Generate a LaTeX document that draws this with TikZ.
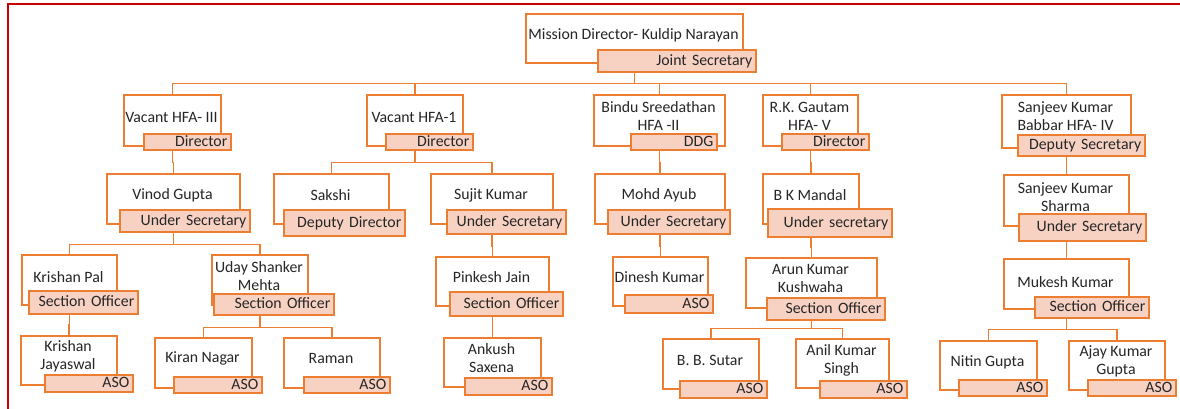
\documentclass[tikz,border=0pt]{standalone}
\usepackage{fontspec}
\setmainfont{Carlito}
\definecolor{edge}{RGB}{237,125,49}
\definecolor{rolefill}{RGB}{247,210,195}
\definecolor{ink}{RGB}{38,38,38}
\definecolor{framered}{RGB}{204,0,0}

\tikzset{
  personbox/.style={draw=edge, line width=1.6pt, fill=white, inner sep=0pt},
  rolebox/.style={draw=edge, line width=1.6pt, fill=rolefill, inner ysep=0pt, inner xsep=3.5pt,
    align=right, text=ink, text height=11.5pt, text depth=3pt, font=\fontsize{15.8}{18}\selectfont},
  nametext/.style={inner sep=0pt, align=center, text=ink, font=\fontsize{15.8}{18}\selectfont},
  conn/.style={draw=edge, line width=1.6pt},
}

% person box: name, x1, y1, x2, y2, text, text centre y
\newcommand\person[7]{%
  \pgfmathsetmacro\bw{#4-#2}\pgfmathsetmacro\bh{#5-#3}%
  \node[personbox, minimum width=\bw pt, minimum height=\bh pt, anchor=north west] (#1) at (#2,#3) {};
  \node[nametext] (#1-name) at ({(#2+#4)/2},#7) {#6};
}
% designation box: name, x1, y1, x2, y2, text
\newcommand\role[6]{%
  \pgfmathsetmacro\bw{#4-#2-7}\pgfmathsetmacro\bh{#5-#3}%
  \node[rolebox, text width=\bw pt, minimum height=\bh pt, anchor=north west] (#1) at (#2,#3) {#6};
}
% connector: parent box, parent designation, drop to bar, child box
\newcommand\link[4]{\draw[conn] (#1.center |- #2.south) -- ++(0,#3) -| (#4.north);}

\begin{document}
\begin{tikzpicture}[x=1pt,y=-1pt]
\useasboundingbox (0,0) rectangle (1180,409);
\draw[framered, line width=2pt] (7.5,409) -- (7.5,4.5) -- (1180,4.5);

% top
\person{md}{525}{13}{742}{62}{Mission Director- Kuldip Narayan}{35}
\role{md-r}{597}{49}{755}{71}{Joint Secretary}

% first level
\person{a}{123}{94}{220}{145}{Vacant HFA- III}{117}
\role{a-r}{143}{133}{230}{149}{Director}
\person{b}{366}{94}{462}{145}{Vacant HFA-1}{117}
\role{b-r}{385}{133}{472}{149}{Director}
\person{c}{593}{94}{724}{145}{Bindu Sreedathan\\HFA -II}{116}
\role{c-r}{630}{133}{716}{149}{DDG}
\person{d}{762}{94}{857}{145}{R.K. Gautam\\HFA- V}{116}
\role{d-r}{781}{133}{868}{149}{Director}
\person{e}{1001}{94}{1130}{147}{Sanjeev Kumar\\Babbar HFA- IV}{116}
\role{e-r}{1017}{134}{1144}{155}{Deputy Secretary}

% second level
\person{vg}{106}{173}{239}{223}{Vinod Gupta}{195}
\role{vg-r}{119}{209}{249}{231}{Under Secretary}
\person{sk}{273}{173}{388}{223}{Sakshi}{195}
\role{sk-r}{283}{209}{404}{235}{Deputy Director}
\person{sj}{430}{173}{552}{223}{Sujit Kumar}{195}
\role{sj-r}{446}{209}{565}{233}{Under Secretary}
\person{ma}{594}{173}{724}{223}{Mohd Ayub}{195}
\role{ma-r}{607}{209}{729}{233}{Under Secretary}
\person{bk}{762}{173}{858}{223}{B K Mandal}{195}
\role{bk-r}{767}{208}{891}{236}{Under secretary}
\person{ss}{1003}{174}{1128}{225}{Sanjeev Kumar\\Sharma}{197}
\role{ss-r}{1018}{213}{1145}{240}{Under Secretary}

% third level
\person{kp}{21}{254}{116}{304}{Krishan Pal}{277}
\role{kp-r}{28}{290}{137}{313}{Section Officer}
\person{us}{211}{254}{307}{304}{Uday Shanker\\Mehta}{276}
\role{us-r}{213}{293}{333}{314}{Section Officer}
\person{pj}{435}{256}{548}{305}{Pinkesh Jain}{277}
\role{pj-r}{449}{291}{562}{315}{Section Officer}
\person{dk}{612}{256}{707}{305}{Dinesh Kumar}{277}
\role{dk-r}{624}{294}{712}{312}{ASO}
\person{ak}{745}{257}{876}{307}{Arun Kumar\\Kushwaha}{278}
\role{ak-r}{766}{297}{884}{319}{Section Officer}
\person{mk}{1003}{258}{1128}{308}{Mukesh Kumar}{282}
\role{mk-r}{1034}{296}{1148}{317}{Section Officer}

% fourth level
\person{kj}{20}{335}{116}{384}{Krishan\\Jayaswal}{356}
\role{kj-r}{44}{374}{132}{391}{ASO}
\person{kn}{154}{337}{251}{387}{Kiran Nagar}{358}
\role{kn-r}{173}{376}{261}{392}{ASO}
\person{rm}{283}{337}{379}{387}{Raman}{358}
\role{rm-r}{303}{376}{389}{392}{ASO}
\person{ax}{443}{337}{540}{386}{Ankush\\Saxena}{358}
\role{ax-r}{464}{377}{551}{394}{ASO}
\person{bs}{662}{338}{758}{388}{B. B. Sutar}{360}
\role{bs-r}{679}{380}{766}{397}{ASO}
\person{anil}{795}{338}{888}{387}{Anil Kumar\\Singh}{360}
\role{anil-r}{819}{380}{906}{397}{ASO}
\person{ng}{939}{340}{1036}{389}{Nitin Gupta}{362}
\role{ng-r}{958}{379}{1046}{395}{ASO}
\person{ajay}{1068}{340}{1164}{389}{Ajay Kumar\\Gupta}{361}
\role{ajay-r}{1087}{379}{1175}{395}{ASO}

% reporting lines
\link{md}{md-r}{11}{a}
\link{md}{md-r}{11}{b}
\link{md}{md-r}{11}{c}
\link{md}{md-r}{11}{d}
\link{md}{md-r}{11}{e}
\link{a}{a-r}{12}{vg}
\link{b}{b-r}{12}{sk}
\link{b}{b-r}{12}{sj}
\link{c}{c-r}{12}{ma}
\link{d}{d-r}{12}{bk}
\link{e}{e-r}{10}{ss}
\link{vg}{vg-r}{12}{kp}
\link{vg}{vg-r}{12}{us}
\link{sj}{sj-r}{12}{pj}
\link{ma}{ma-r}{12}{dk}
\link{bk}{bk-r}{10}{ak}
\link{ss}{ss-r}{9}{mk}
\link{kp}{kp-r}{10}{kj}
\link{us}{us-r}{12}{kn}
\link{us}{us-r}{12}{rm}
\link{pj}{pj-r}{10}{ax}
\link{ak}{ak-r}{8}{bs}
\link{ak}{ak-r}{8}{anil}
\link{mk}{mk-r}{11}{ng}
\link{mk}{mk-r}{11}{ajay}
\end{tikzpicture}
\end{document}
